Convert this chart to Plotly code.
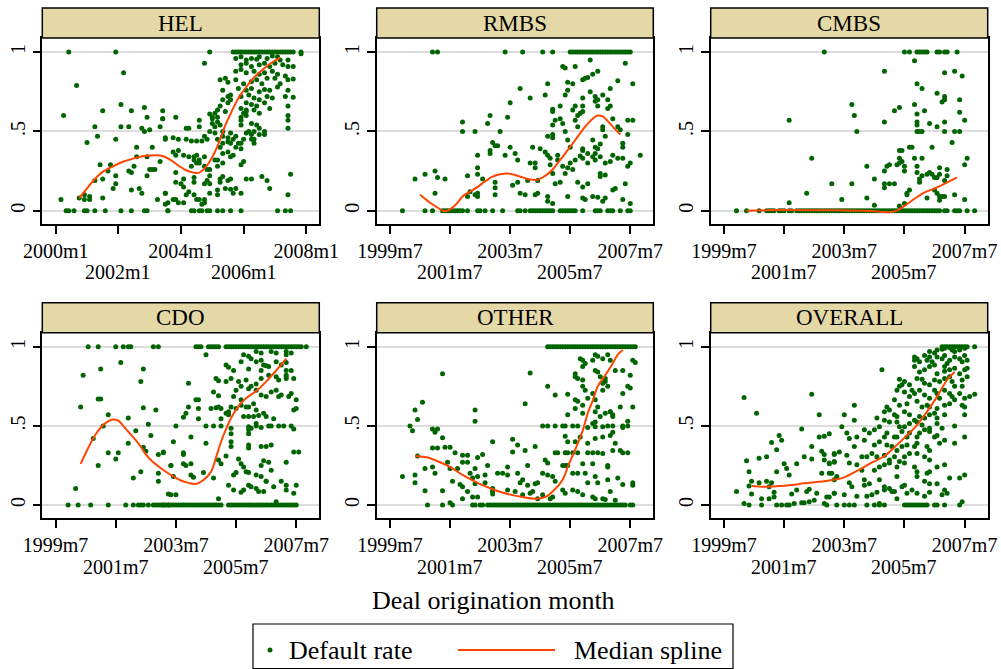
import plotly.graph_objects as go

# ---- monthly dates are Stata %tm codes (months since 1960m1) ----
hel_tick_months = [480, 504, 528, 552, 576]
hel_tick_labels = ["2000m1", "2002m1", "2004m1", "2006m1", "2008m1"]
tick_months = [474, 498, 522, 546, 570]
tick_labels = ["1999m7", "2001m7", "2003m7", "2005m7", "2007m7"]

# (origination month, default rate) per deal
hel_points = [
    (485, 1.0), (503, 1.0), (483, .60), (488, .79), (506, .87), (505, .67), (514, .65), (509, .63), (498, .63),
    (521, .63), (515, .59), (521, .58), (495, .53), (505, .53), (508, .53), (513, .52), (514, .50), (516, .51),
    (520, .53), (496, .47), (503, .45), (522, .45), (492, .43), (511, .40), (517, .40), (515, .34), (511, .34),
    (497, .29), (501, .29), (510, .28), (516, .26), (517, .26), (518, .26), (520, .31), (500, .25), (508, .25),
    (509, .24), (498, .20), (495, .19), (503, .22), (515, .22), (503, .17), (502, .14), (509, .13), (512, .14),
    (513, .11), (522, .11), (489, .08), (491, .10), (493, .09), (491, .07), (493, .07), (482, .07), (498, .08),
    (519, .07), (522, .04),
    (484, 0), (485, 0), (487, 0), (491, 0), (492, 0), (495, 0), (499, 0), (505, 0), (509, 0), (514, 0), (515, 0), (523, 0),
    (521, .58), (526, .59), (530, .52), (531, .52), (535, .57), (535, .53), (539, .61), (540, .58), (522, .46),
    (525, .46), (527, .45), (530, .45), (532, .44), (534, .44), (537, .47), (536, .44), (538, .45), (539, .50),
    (525, .37), (526, .35), (527, .38), (529, .35), (531, .34), (533, .34), (533, .32), (534, .35), (535, .32),
    (537, .34), (532, .28), (534, .30), (535, .30), (537, .28), (538, .26), (526, .24), (529, .20), (528, .17),
    (526, .18), (522, .11), (523, .05), (525, .07), (526, .07), (527, .05), (529, .05), (529, .15), (531, .12),
    (530, .10), (533, .10), (534, .07), (535, .07), (536, .04), (537, .05), (537, .07), (533, .18), (533, .21),
    (537, .17), (538, .19), (539, .17), (539, .22), (539, .26), (539, .11),
    (523, 0), (532, 0), (533, 0), (535, 0), (536, 0), (538, 0), (539, 0), (542, 0), (544, 0), (547, 0), (551, 0),
    (565, 0), (568, 0), (570, 0),
    (539, 1.0), (537, .93), (543, .825), (544, .76), (545, .835), (546, .81), (544, .70), (546, .72), (547, .70),
    (547, .73), (546, .68), (542, .635), (543, .66), (545, .625), (542, .59), (540, .59), (541, .615), (540, .55),
    (542, .56), (543, .54), (541, .53), (541, .49), (544, .50), (544, .47), (546, .46), (547, .49), (542, .45),
    (543, .40), (544, .425), (546, .435), (547, .425), (548, .45), (549, .40), (550, .425), (549, .47), (551, .425),
    (544, .36), (546, .37), (547, .34), (548, .35), (541, .32), (542, .32), (544, .30), (542, .28), (543, .20),
    (543, .18), (544, .215), (546, .19), (547, .20), (549, .14), (552, .31), (551, .29), (542, .13), (545, .14),
    (547, .135), (548, .11), (551, .11), (542, .10), (553, .20), (555, .20), (559, .215), (561, .19), (562, .14),
    (570, .23), (569, .10), (551, .54), (551, .57), (551, .59), (552, .615), (553, .635), (551, .645), (553, .60),
    (555, .55), (557, .54), (556, .50), (558, .52), (554, .50), (555, .48), (556, .45), (556, .425), (558, .48),
    (560, .50), (560, .48), (555, .45), (552, .45), (551, .39), (553, .49),
    (548, 1), (549, 1), (550, 1), (551, 1), (552, 1), (553, 1), (554, 1), (555, 1), (556, 1), (557, 1), (558, 1),
    (559, 1), (560, 1), (561, 1), (562, 1), (563, 1), (564, 1), (565, 1), (566, 1), (567, 1), (568, 1), (569, 1),
    (570, 1), (571, 1), (574, 1), (574, .99),
    (549, .96), (551, .97), (553, .95), (555, .96), (557, .955), (558, .97), (561, .96), (563, .975), (565, .97),
    (566, .95), (569, .95), (551, .92), (553, .93), (555, .91), (558, .92), (560, .93), (562, .91), (564, .93),
    (567, .92), (569, .91), (549, .88), (551, .89), (553, .87), (556, .88), (558, .86), (560, .87), (563, .88),
    (565, .86), (568, .85), (571, .91), (549, .825), (552, .80), (555, .815), (557, .825), (559, .80), (561, .835),
    (564, .835), (566, .80), (569, .825), (571, .83), (550, .77), (553, .76), (555, .77), (558, .75), (560, .765),
    (562, .76), (565, .78), (569, .76), (551, .72), (554, .73), (556, .71), (558, .70), (561, .72), (563, .71),
    (568, .72), (571, .715), (553, .68), (555, .67), (557, .66), (560, .68), (562, .645), (553, .625), (556, .635),
    (558, .615), (569, .66), (569, .60), (569, .57), (569, .52),
]
hel_spline = [
    (489, .08), (492, .14), (495, .20), (498, .245), (502, .28), (506, .31), (510, .33), (514, .345), (518, .35),
    (521, .345), (524, .32), (527, .285), (530, .255), (533, .24), (535, .24), (537, .265), (539, .31), (541, .37),
    (543, .45), (545, .54), (547, .61), (549, .68), (551, .735), (553, .78), (556, .84), (559, .885), (562, .925),
    (566, .965),
]

rmbs_points = [
    (491, 1), (493, 1), (479, 0), (484, .20), (488, .23), (492, .25), (493, .21), (496, .20), (492, .11), (488, 0),
    (491, 0), (495, 0), (496, 0), (497, 0), (498, 0), (499, 0), (500, 0), (501, 0), (502, 0), (503, 0), (505, 0),
    (509, 0), (510, 0), (512, 0), (515, 0),
    (503, .56), (503, .50), (508, .50), (514, .60), (513, .55), (509, .35), (509, .27), (509, .23), (505, .22),
    (511, .20), (515, .43), (514, .38), (514, .36), (517, .41), (518, .50), (516, .18), (516, .145), (516, .10),
    (506, .12), (509, .11), (509, .09), (508, .10), (505, .09),
    (520, 1), (527, 1), (535, 1), (539, 1), (546, 1), (547, 1), (548, 1), (549, 1), (550, 1), (551, 1), (552, 1),
    (553, 1), (554, 1), (555, 1), (556, 1), (557, 1), (558, 1), (559, 1), (560, 1), (561, 1), (562, 1), (563, 1),
    (564, 1), (565, 1), (566, 1), (567, 1), (568, 1), (569, 1), (570, 1),
    (522, .68), (526, .77), (521, .59), (530, .71), (536, .73), (537, .80), (539, .64), (539, .625), (542, .66),
    (542, .58), (540, .57), (543, .91), (544, .90), (548, .91), (545, .81), (545, .76), (547, .80), (544, .73),
    (547, .635), (551, .825), (552, .835), (553, .84), (555, .86), (557, .88), (554, .95), (562, .77), (565, .82),
    (568, .93), (571, .80), (551, .71), (551, .66), (551, .625), (548, .66), (549, .60), (550, .615), (554, .75),
    (556, .72), (556, .69), (557, .66), (557, .70), (559, .73), (561, .70), (561, .645), (562, .66),
    (539, .54), (539, .48), (537, .47), (539, .46), (543, .55), (544, .50), (545, .445), (546, .40), (548, .57),
    (549, .53), (551, .39), (551, .38), (553, .36), (555, .445), (556, .40), (557, .39), (558, .42), (559, .53),
    (559, .51), (560, .47), (563, .58), (565, .53), (566, .51), (569, .57), (571, .57), (567, .425), (567, .40),
    (569, .48), (574, .35),
    (522, .40), (524, .36), (525, .32), (520, .35), (516, .41), (531, .40), (534, .39), (536, .37), (530, .30),
    (532, .30), (532, .27), (537, .35), (538, .33), (538, .29), (541, .35), (541, .32), (543, .28), (539, .235),
    (540, .17), (542, .18), (544, .235), (545, .27), (547, .26), (546, .30), (548, .32), (550, .345), (551, .33),
    (553, .30), (555, .34), (556, .36), (556, .32), (558, .34), (560, .30), (562, .31), (563, .35), (565, .33),
    (567, .33), (569, .28), (570, .30), (558, .235), (560, .225), (558, .215), (549, .18), (551, .15), (553, .17),
    (525, .18), (529, .19), (533, .19), (533, .11), (526, .11), (528, .10), (532, .10), (537, .09), (537, .06),
    (539, .045), (545, .09), (551, .08), (552, .07), (555, .09), (557, .085), (559, .06), (560, .08), (563, .13),
    (564, .14), (568, .17), (567, .07), (570, .045), (523, .16),
    (519, 0), (525, 0), (526, 0), (528, 0), (530, 0), (531, 0), (532, 0), (533, 0), (534, 0), (535, 0), (536, 0),
    (537, 0), (538, 0), (539, 0), (542, 0), (543, 0), (544, 0), (545, 0), (546, 0), (547, 0), (548, 0), (551, 0),
    (556, 0), (557, 0), (558, 0), (561, 0), (562, 0), (563, 0), (566, 0), (569, 0), (570, 0),
]
rmbs_spline = [
    (486, .10), (488, .075), (490, .05), (493, .02), (495, .0), (497, .0), (499, .02), (501, .05), (503, .09),
    (506, .12), (509, .15), (512, .185), (515, .215), (518, .23), (521, .235), (524, .225), (527, .21), (530, .197),
    (533, .195), (536, .22), (539, .26), (541, .30), (544, .36), (548, .445), (552, .53), (555, .58), (557, .60),
    (559, .595), (561, .565), (563, .53), (566, .48),
]

cmbs_points = [
    (479, 0), (483, 0), (488, 0), (491, 0), (492, 0), (493, 0), (494, 0), (496, 0), (497, 0), (498, 0), (500, 0),
    (501, 0), (503, 0), (504, 0), (505, 0), (506, 0), (507, 0), (508, 0), (509, 0), (510, 0), (511, 0), (512, 0),
    (513, 0), (514, 0), (515, 0), (516, 0), (517, 0), (518, 0),
    (514, 1), (500, .57), (509, .33), (517, .17), (507, .11), (500, .05),
    (546, 1), (548, 1), (551, 1), (552, 1), (553, 1), (554, 1), (555, 1), (559, 1), (560, 1), (562, 1), (563, 1),
    (567, 1),
    (550, .945), (538, .88), (562, .87), (566, .88), (569, .85), (551, .80), (553, .77), (559, .74), (562, .72),
    (562, .70), (561, .685), (568, .70), (525, .67), (526, .60), (527, .50), (542, .63), (544, .65), (550, .67),
    (554, .63), (551, .61), (551, .56), (551, .54), (551, .50), (552, .50), (553, .50), (556, .55), (559, .53),
    (562, .56), (562, .50), (566, .50), (568, .50), (568, .62), (570, .57), (538, .56), (565, .43),
    (544, .38), (545, .38), (544, .33), (545, .31), (548, .40), (549, .40), (550, .33), (553, .33), (557, .40),
    (531, .28), (534, .20), (538, .17), (538, .145), (540, .17), (542, .17), (538, .25), (539, .28), (540, .29),
    (543, .29), (544, .30), (546, .28), (546, .25), (551, .28), (551, .24), (552, .20), (552, .18), (553, .22),
    (555, .23), (556, .24), (557, .23), (558, .21), (559, .21), (560, .27), (560, .23), (563, .26), (563, .22),
    (562, .19), (570, .29), (571, .33), (566, .10), (570, .07), (547, .11), (547, .10), (548, .13), (555, .08),
    (558, .13), (559, .11), (560, .09), (560, .065), (561, .09), (562, .09), (544, .03), (546, .045), (521, .07),
    (531, .08), (534, .035), (525, .17),
    (519, 0), (520, 0), (521, 0), (522, 0), (523, 0), (524, 0), (525, 0), (526, 0), (527, 0), (528, 0), (529, 0),
    (530, 0), (531, 0), (532, 0), (533, 0), (534, 0), (535, 0), (536, 0), (537, 0), (538, 0), (539, 0), (540, 0),
    (541, 0), (542, 0), (543, 0), (544, 0), (545, 0), (546, 0), (547, 0), (548, 0), (549, 0), (550, 0), (551, 0),
    (552, 0), (553, 0), (554, 0), (555, 0), (556, 0), (557, 0), (558, 0), (559, 0), (560, 0), (562, 0), (563, 0),
    (566, 0), (567, 0), (568, 0), (571, 0), (574, 0),
]
cmbs_spline = [
    (483, 0), (490, .002), (500, .004), (510, .003), (520, .002), (530, 0), (536, -.006), (540, -.01), (543, 0),
    (546, .03), (550, .075), (554, .115), (558, .14), (562, .17), (567, .21),
]

cdo_points = [
    (479, 0), (483, 0), (488, 0), (495, 0), (502, 0), (505, 0), (507, 0), (508, 0), (509, 0), (511, 0), (513, 0),
    (514, 0), (515, 0), (517, 0), (519, 0),
    (487, 1), (491, 1), (498, 1), (501, 1), (503, 1), (504, 1), (513, 1), (515, 1),
    (500, .90), (485, .82), (492, .86), (509, .86), (508, .78), (491, .67), (492, .67), (484, .62), (509, .615),
    (514, .60), (495, .57), (503, .55), (511, .51), (493, .50), (506, .47), (512, .44), (489, .42), (503, .39),
    (509, .365), (510, .34), (495, .33), (499, .33), (498, .29), (491, .25), (515, .32), (517, .33), (515, .20),
    (515, .15), (508, .21), (505, .17), (482, .105), (520, .25), (519, .07),
    (530, 1), (531, 1), (532, 1), (535, 1), (536, 1), (537, 1), (538, 1), (539, 1), (542, 1), (543, 1), (544, 1),
    (545, 1), (546, 1), (547, 1), (548, 1), (549, 1), (550, 1), (551, 1), (552, 1), (553, 1), (554, 1), (555, 1),
    (556, 1), (557, 1), (558, 1), (559, 1), (560, 1), (561, 1), (562, 1), (563, 1), (564, 1), (565, 1), (566, 1),
    (567, 1), (568, 1), (569, 1), (570, 1), (571, 1), (572, 1), (574, 1),
    (534, .95), (549, .95), (551, .94), (554, .97), (556, .96), (556, .915), (560, .97), (562, .96), (566, .97),
    (566, .95), (568, .96), (552, .925), (554, .905), (557, .885), (559, .875), (562, .905), (564, .885),
    (566, .90), (542, .885), (543, .87), (545, .85), (548, .905), (551, .86), (556, .85), (558, .88), (566, .85),
    (568, .85), (569, .80), (538, .80), (539, .785), (542, .78), (544, .80), (547, .78), (548, .75), (550, .79),
    (552, .75), (554, .765), (556, .80), (559, .82), (562, .81), (563, .79), (566, .81), (566, .82), (566, .80),
    (527, .77), (537, .715), (539, .69), (546, .725), (551, .735), (554, .725), (556, .695), (558, .685),
    (560, .715), (562, .725), (564, .695), (563, .685), (567, .685), (568, .705), (530, .665), (531, .665),
    (545, .685), (548, .665), (550, .62), (551, .62), (553, .64), (554, .60), (570, .665),
    (527, .62), (526, .58), (525, .555), (531, .61), (531, .545), (536, .61), (538, .615), (539, .62), (540, .61),
    (540, .545), (542, .58), (543, .57), (543, .59), (544, .62), (546, .61), (548, .63), (549, .56), (551, .56),
    (553, .56), (555, .565), (557, .58), (558, .56), (561, .545), (569, .60), (570, .61),
    (522, .50), (534, .50), (537, .50), (540, .50), (544, .485), (544, .45), (544, .40), (551, .495), (551, .475),
    (551, .45), (552, .485), (554, .50), (554, .515), (556, .49), (559, .50), (560, .50), (563, .50), (565, .50),
    (568, .50), (569, .48), (528, .43), (521, .40), (534, .39), (551, .38), (551, .36), (556, .37), (558, .37),
    (560, .38), (544, .37), (517, .335), (525, .33), (525, .32), (542, .31), (569, .335), (571, .335),
    (520, .25), (525, .26), (526, .25), (528, .26), (539, .285), (540, .26), (547, .29), (548, .26), (549, .24),
    (550, .21), (556, .25), (557, .28), (559, .27), (560, .22), (566, .27),
    (521, .18), (528, .19), (529, .175), (533, .205), (537, .17), (545, .19), (546, .205), (551, .205), (554, .19),
    (556, .18), (558, .15), (564, .15), (566, .125), (543, .125), (545, .095), (548, .08), (549, .095), (551, .125),
    (552, .115), (554, .105), (555, .085), (557, .085), (558, .15), (561, .115), (566, .095), (569, .075),
    (570, .125), (520, .065), (522, .065), (539, .04), (562, .02),
    (516, 0), (517, 0), (518, 0), (519, 0), (520, 0), (521, 0), (522, 0), (523, 0), (524, 0), (525, 0), (526, 0),
    (527, 0), (528, 0), (529, 0), (530, 0), (531, 0), (532, 0), (533, 0), (534, 0), (535, 0), (536, 0), (537, 0),
    (538, 0), (539, 0), (540, 0), (543, 0), (544, 0), (545, 0), (546, 0), (547, 0), (548, 0), (549, 0), (550, 0),
    (551, 0), (552, 0), (553, 0), (554, 0), (555, 0), (556, 0), (557, 0), (558, 0), (559, 0), (560, 0), (561, 0),
    (562, 0), (563, 0), (564, 0), (565, 0), (566, 0), (567, 0), (568, 0), (569, 0), (570, 0),
]
cdo_spline = [
    (484, .26), (487, .36), (489, .42), (491, .47), (493, .505), (495, .53), (497, .54), (499, .533), (501, .50),
    (503, .463), (506, .41), (508, .368), (510, .32), (512, .285), (515, .245), (518, .21), (521, .18), (524, .155),
    (527, .14), (530, .133), (533, .158), (536, .21), (538, .30), (540, .40), (542, .48), (544, .55), (547, .625),
    (550, .675), (554, .72), (558, .78), (562, .85), (566, .925),
]

other_points = [
    (479, .18), (484, .19), (484, .14), (482, .50), (483, .47), (484, .60), (485, .54), (487, .65), (485, .31),
    (488, .23), (488, .09), (489, 0), (491, .48), (493, .48), (492, .46), (491, .36), (493, .36), (491, .24),
    (492, .20), (495, .83), (495, .425), (496, .365), (498, .365), (497, .27), (495, .09), (495, 0), (498, .23),
    (499, .15), (500, .33), (498, .015), (499, 0), (503, .315), (505, .315), (503, .27), (505, .27), (501, .23),
    (502, .13), (503, .115), (503, .04), (505, .085), (506, .20), (507, .17), (508, .23), (508, .60), (508, .53),
    (509, .30), (511, .32), (509, .18), (508, .135), (507, .05), (509, .05), (513, .25), (512, .19), (512, .14),
    (515, .40), (515, .105), (515, .085), (515, .07), (517, .20),
    (507, 0), (508, 0), (510, 0), (511, 0), (513, 0), (514, 0), (515, 0), (516, 0), (517, 0), (518, 0),
    (537, 1), (538, 1), (539, 1), (540, 1), (541, 1), (542, 1), (543, 1), (544, 1), (545, 1), (546, 1), (547, 1),
    (548, 1), (549, 1), (550, 1), (551, 1), (552, 1), (553, 1), (554, 1), (555, 1), (556, 1), (557, 1), (558, 1),
    (559, 1), (560, 1), (561, 1), (562, 1), (563, 1), (564, 1), (565, 1), (566, 1), (567, 1), (568, 1), (569, 1),
    (570, 1), (571, 1), (572, 1),
    (530, .835), (528, .64), (537, .75), (540, .695), (545, .70), (548, .81), (549, .80), (548, .83),
    (550, .925), (551, .915), (551, .875), (552, .895), (555, .915), (556, .95), (557, .94), (559, .925),
    (561, .95), (562, .915), (556, .85), (557, .84), (558, .81), (560, .80), (564, .85), (567, .85), (570, .82),
    (569, .75), (570, .74), (571, .915), (572, .90),
    (551, .79), (551, .75), (552, .725), (553, .675), (555, .705), (556, .665), (557, .62), (559, .725), (559, .77),
    (560, .78), (561, .75), (562, .59), (563, .57), (563, .56), (566, .62), (567, .705), (571, .62),
    (545, .57), (548, .61), (548, .665), (549, .655), (551, .63), (551, .58),
    (535, .50), (537, .50), (540, .50), (543, .50), (544, .50), (547, .50), (549, .50), (553, .49), (555, .515),
    (556, .525), (556, .495), (559, .495), (561, .50), (563, .50), (563, .46), (567, .50), (567, .49), (569, .53),
    (569, .50), (556, .59), (558, .56), (560, .58), (562, .59),
    (523, .415), (525, .38), (532, .37), (544, .435), (545, .40), (548, .40), (550, .43), (553, .39), (556, .42),
    (559, .43), (562, .44), (564, .39),
    (523, .335), (528, .345), (529, .25), (536, .285), (537, .265), (540, .33), (541, .33), (544, .33), (545, .33),
    (547, .33), (549, .33), (553, .33), (555, .33), (557, .33), (559, .325), (561, .25), (561, .24), (563, .345),
    (566, .345), (567, .33), (569, .33),
    (521, .24), (519, .20), (521, .19), (525, .20), (526, .14), (527, .16), (529, .125), (532, .135), (533, .14),
    (535, .20), (537, .19), (539, .18), (540, .15), (543, .25), (544, .25), (545, .25), (547, .20), (549, .20),
    (551, .26), (552, .20), (553, .14), (555, .26), (556, .18), (557, .14), (561, .16), (565, .17), (567, .13),
    (571, .14), (571, .125),
    (521, .095), (524, .085), (527, .065), (530, .075), (531, .085), (533, .04), (535, .065), (538, .04), (539, .05),
    (543, .095), (544, .075), (547, .095), (549, .085), (551, .065), (555, .05), (556, .04), (559, .04), (560, .035),
    (562, .085), (564, .03),
    (519, 0), (520, 0), (521, 0), (522, 0), (523, 0), (524, 0), (525, 0), (526, 0), (527, 0), (528, 0), (529, 0),
    (530, 0), (531, 0), (532, 0), (533, 0), (534, 0), (535, 0), (536, 0), (537, 0), (538, 0), (539, 0), (540, 0),
    (541, 0), (542, 0), (543, 0), (544, 0), (545, 0), (546, 0), (547, 0), (548, 0), (549, 0), (550, 0), (551, 0),
    (552, 0), (553, 0), (554, 0), (555, 0), (556, 0), (557, 0), (558, 0), (559, 0), (560, 0), (561, 0), (562, 0),
    (563, 0), (564, 0), (565, 0), (566, 0), (567, 0), (568, 0), (570, 0), (571, 0),
]
other_spline = [
    (484, .31), (489, .30), (494, .27), (498, .24), (503, .19), (509, .14), (515, .10), (521, .07), (527, .05),
    (532, .04), (536, .05), (539, .085), (543, .16), (545, .24), (548, .35), (551, .47), (553, .58), (555, .66),
    (557, .75), (560, .82), (563, .895), (565, .95), (567, .98),
]

overall_points = [
    (479, .085), (482, .68), (482, .01), (484, 0), (483, .28), (484, .21), (484, .12), (485, .15), (485, .07),
    (489, .04), (489, 0), (487, .58), (488, .295), (491, .305), (488, .14), (491, .15), (492, .04), (493, .14),
    (492, .115), (493, .395), (495, .35), (496, .44), (497, .41), (495, .21), (494, .08), (494, .05), (495, 0),
    (497, 0), (498, .26), (499, .23), (500, .19), (501, .07), (502, .01), (503, .095), (503, .26), (499, 0),
    (500, 0), (505, .48), (506, .305), (505, .015), (506, .015), (507, .085), (508, .02), (508, .10), (509, .37),
    (509, .29), (510, .03), (511, .075), (509, .70), (512, .57), (512, .43), (514, .435), (513, .34), (514, .32),
    (514, .285), (516, .45), (516, .26), (513, .20), (514, .01), (515, .05), (516, .05), (515, 0), (517, .20),
    (518, .075), (518, .27), (518, .325), (518, .16),
    (561, 1), (562, 1), (563, 1), (564, 1), (565, 1), (566, 1), (567, 1), (568, 1), (569, 1), (570, 1), (571, 1),
    (574, 1),
    (556, .97), (558, .96), (559, .98), (561, .985), (562, .99), (564, .995), (565, .98), (566, .97), (568, .98),
    (570, .99), (570, .945),
    (550, .935), (550, .915), (551, .925), (552, .905), (554, .945), (555, .915), (556, .935), (557, .905),
    (558, .885), (559, .935), (561, .925), (562, .945), (563, .895), (564, .915), (566, .935), (568, .925),
    (569, .905), (571, .915), (570, .855), (571, .865),
    (550, .875), (552, .84), (554, .855), (556, .875), (559, .83), (562, .875), (562, .845), (564, .855),
    (566, .865), (568, .83), (571, .81), (564, .81), (537, .855),
    (544, .795), (545, .76), (546, .78), (548, .76), (549, .725), (551, .80), (553, .795), (554, .77), (556, .76),
    (558, .79), (560, .78), (562, .80), (565, .78), (566, .75), (569, .79), (569, .75),
    (543, .725), (544, .75), (546, .715), (548, .685), (550, .705), (552, .725), (554, .695), (556, .675),
    (558, .725), (559, .705), (560, .675), (562, .725), (564, .705), (565, .685), (566, .665), (568, .705),
    (570, .675), (572, .685), (574, .70),
    (542, .665), (544, .63), (547, .64), (551, .655), (553, .62), (555, .63), (556, .62), (559, .61), (562, .63),
    (564, .64), (569, .63), (570, .62),
    (539, .62), (538, .59), (540, .60), (542, .57), (543, .56), (546, .59), (548, .57), (550, .535), (552, .56),
    (554, .55), (556, .57), (558, .58), (559, .55), (562, .57), (570, .57), (526, .63),
    (535, .55), (538, .535), (540, .525), (543, .525), (544, .495), (546, .495), (548, .515), (551, .525),
    (553, .505), (554, .475), (556, .485), (559, .515), (561, .485), (566, .50), (570, .43),
    (522, .57), (526, .535), (530, .475), (532, .455), (534, .475), (536, .495), (538, .43), (539, .455), (542, .43),
    (543, .43), (545, .465), (547, .43), (548, .455), (551, .43), (552, .455), (556, .465), (558, .43), (559, .44),
    (562, .41),
    (521, .495), (523, .455), (524, .42), (527, .43), (530, .41), (534, .38), (536, .40), (539, .38), (541, .37),
    (543, .345), (545, .37), (547, .38), (550, .37), (551, .39), (555, .37), (556, .345), (560, .39), (566, .39),
    (518, .32), (520, .335), (523, .315), (526, .37), (529, .305), (531, .305), (533, .325), (535, .305),
    (538, .315), (540, .285), (542, .305), (544, .275), (546, .305), (548, .325), (551, .325), (554, .305),
    (556, .285), (562, .255),
    (516, .265), (518, .275), (524, .265), (527, .255), (529, .22), (534, .22), (536, .24), (538, .255), (540, .265),
    (543, .24), (546, .265), (550, .24), (551, .21), (555, .20), (556, .21), (559, .24),
    (516, .20), (519, .18), (524, .14), (525, .115), (530, .16), (530, .125), (532, .135), (536, .16), (538, .115),
    (540, .105), (542, .085), (543, .18), (545, .115), (546, .125), (551, .18), (554, .15), (556, .135), (559, .135),
    (562, .095), (564, .17), (568, .17), (570, .19),
    (518, .075), (522, .065), (527, .055), (531, .055), (533, .065), (535, .08), (536, .01), (538, .095), (541, .085),
    (543, .04), (547, .075), (549, .095), (551, .075), (554, .055), (556, .08), (561, .065), (563, .075), (569, .02),
    (519, 0), (522, 0), (524, 0), (526, 0), (531, 0), (534, 0), (536, 0), (538, 0), (546, 0), (547, 0), (548, 0),
    (549, 0), (550, 0), (551, 0), (552, 0), (553, 0), (554, 0), (555, 0), (558, 0), (559, 0), (562, 0), (568, 0),
]
overall_spline = [
    (485, .12), (490, .115), (496, .12), (501, .126), (506, .137), (512, .147), (516, .155), (522, .175),
    (527, .215), (532, .26), (538, .31), (543, .38), (547, .44), (551, .505), (555, .59), (559, .685), (563, .79),
    (566, .84),
]

panel_names = ["HEL", "RMBS", "CMBS", "CDO", "OTHER", "OVERALL"]
panel_points = [hel_points, rmbs_points, cmbs_points, cdo_points, other_points, overall_points]
panel_splines = [hel_spline, rmbs_spline, cmbs_spline, cdo_spline, other_spline, overall_spline]

# ---- styling ----
W, H = 1001, 669
SERIF = "Liberation Serif"
DOT = "#006400"
SPLINE = "#FF4500"
HEADER_FILL = "#E4D9A6"
GRID = "#DCDCDC"

col_px = [(42.3, 319.3), (376.7, 653.3), (710.7, 987.7)]
row_px = [(38.0, 224.0), (332.7, 518.3)]     # plot region top/bottom in pixels
header_px = [(8.0, 38.0), (302.7, 332.7)]
lower_label_px = [272.0, 566.5]               # centre line of the second row of x labels


def px_x(v):
    return v / W


def px_y(v):
    return 1 - v / H


fig = go.Figure()
shapes, annotations = [], []
tick_font = dict(family=SERIF, size=20, color="black")

for i, name in enumerate(panel_names):
    r, c = divmod(i, 3)
    k = i + 1
    xa, ya = f"x{k}", f"y{k}"
    pts = panel_points[i]
    spl = panel_splines[i]

    fig.add_trace(go.Scatter(
        x=[p[0] for p in pts], y=[p[1] for p in pts], mode="markers",
        marker=dict(color=DOT, size=5, line=dict(width=0)),
        xaxis=xa, yaxis=ya, showlegend=False, hoverinfo="skip"))
    fig.add_trace(go.Scatter(
        x=[p[0] for p in spl], y=[p[1] for p in spl], mode="lines",
        line=dict(color=SPLINE, width=2, shape="spline", smoothing=1.0),
        xaxis=xa, yaxis=ya, showlegend=False, hoverinfo="skip"))

    if i == 0:
        tv, tl, xr = hel_tick_months, hel_tick_labels, [474.86, 581.0]
    else:
        tv, tl, xr = tick_months, tick_labels, [468.7, 579.2]
    # labels alternate between an upper row (axis tick labels) and a lower row
    upper = [lab if j % 2 == 0 else "" for j, lab in enumerate(tl)]

    x0, x1 = col_px[c]
    top, bot = row_px[r]
    axis_common = dict(showline=True, linecolor="black", linewidth=1.5, mirror=True,
                       ticks="outside", tickcolor="black", tickwidth=1.5, ticklen=8,
                       zeroline=False, automargin=False, tickfont=tick_font)
    fig.layout[f"xaxis{k}"] = dict(domain=[px_x(x0), px_x(x1)], anchor=ya, range=xr,
                                   tickvals=tv, ticktext=upper, tickangle=0, showgrid=False,
                                   **axis_common)
    fig.layout[f"yaxis{k}"] = dict(domain=[px_y(bot), px_y(top)], anchor=xa, range=[-0.084, 1.089],
                                   tickvals=[0, 0.5, 1], ticktext=["0", ".5", "1"], tickangle=-90,
                                   showgrid=True, gridcolor=GRID, gridwidth=1.5, **axis_common)
    for j, (v, lab) in enumerate(zip(tv, tl)):
        if j % 2 == 1:
            annotations.append(dict(text=lab, xref=xa, yref="paper", x=v, y=px_y(lower_label_px[r]),
                                    xanchor="center", yanchor="middle", showarrow=False, font=tick_font))

    h0, h1 = header_px[r]
    shapes.append(dict(type="rect", xref="paper", yref="paper",
                       x0=px_x(x0), x1=px_x(x1), y0=px_y(h1), y1=px_y(h0),
                       fillcolor=HEADER_FILL, line=dict(color="black", width=1.5), layer="above"))
    annotations.append(dict(text=name, xref="paper", yref="paper", x=px_x((x0 + x1) / 2),
                            y=px_y((h0 + h1) / 2), xanchor="center", yanchor="middle", showarrow=False,
                            font=dict(family=SERIF, size=23, color="black")))

# overall x title
annotations.append(dict(text="Deal origination month", xref="paper", yref="paper",
                        x=px_x(493), y=px_y(600), xanchor="center", yanchor="middle", showarrow=False,
                        font=dict(family=SERIF, size=26, color="black")))

# legend box
shapes.append(dict(type="rect", xref="paper", yref="paper", x0=px_x(253), x1=px_x(733),
                   y0=px_y(668.5), y1=px_y(624), fillcolor="white", line=dict(color="black", width=1.2)))
shapes.append(dict(type="circle", xref="paper", yref="paper", xsizemode="pixel", ysizemode="pixel",
                   xanchor=px_x(270), yanchor=px_y(650), x0=-2.5, x1=2.5, y0=-2.5, y1=2.5,
                   fillcolor=DOT, line=dict(width=0)))
shapes.append(dict(type="line", xref="paper", yref="paper", x0=px_x(458), x1=px_x(555),
                   y0=px_y(650), y1=px_y(650), line=dict(color=SPLINE, width=2)))
annotations.append(dict(text="Default rate", xref="paper", yref="paper", x=px_x(287), y=px_y(650),
                        xanchor="left", yanchor="middle", showarrow=False,
                        font=dict(family=SERIF, size=26, color="black")))
annotations.append(dict(text="Median spline", xref="paper", yref="paper", x=px_x(572), y=px_y(650),
                        xanchor="left", yanchor="middle", showarrow=False,
                        font=dict(family=SERIF, size=26, color="black")))

fig.update_layout(width=W, height=H, margin=dict(l=0, r=0, t=0, b=0, autoexpand=False),
                  paper_bgcolor="white", plot_bgcolor="white", showlegend=False,
                  shapes=shapes, annotations=annotations,
                  font=dict(family=SERIF, color="black"))

fig.write_html("out.html", config={"displayModeBar": False})
